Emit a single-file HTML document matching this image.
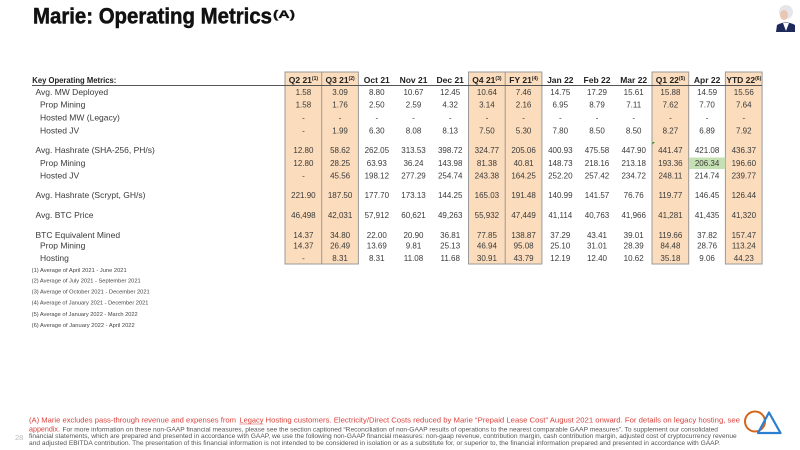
<!DOCTYPE html>
<html>
<head>
<meta charset="utf-8">
<style>
html,body{margin:0;padding:0;background:#fff;}
svg{display:block;}
text{font-family:"Liberation Sans",sans-serif;}
.n{font-size:8px;fill:#3a3a3a;text-anchor:middle;}
.h{font-size:8.5px;font-weight:bold;fill:#222;text-anchor:middle;}
.l{font-size:8.5px;fill:#3a3a3a;}
.f{font-size:5.5px;fill:#444;}
.g{font-size:6px;fill:#555;}
.r{font-size:7.5px;fill:#d8413a;}
</style>
</head>
<body>
<svg width="800" height="450" viewBox="0 0 800 450" xmlns="http://www.w3.org/2000/svg">
<rect width="800" height="450" fill="#fff"/>

<!-- Title -->
<text x="33" y="23.5" font-size="22" font-weight="bold" fill="#111" stroke="#111" stroke-width="0.5" textLength="239" lengthAdjust="spacingAndGlyphs">Marie: Operating Metrics</text>
<text x="273" y="18" font-size="11" font-weight="bold" fill="#111" stroke="#111" stroke-width="0.3" textLength="22" lengthAdjust="spacingAndGlyphs">(A)</text>

<!-- avatar -->
<g>
<path d="M776,32 L777,25 Q786,20 795,25 L795,32 Z" fill="#1e2a5a"/>
<path d="M783,23 L786,31 L789,23 Z" fill="#fff"/>
<circle cx="786" cy="12" r="7" fill="#e6e6ea"/>
<ellipse cx="784" cy="15" rx="4" ry="5" fill="#e9c6b3"/>
</g>

<!-- shaded boxes -->
<g fill="#fbdcbc" stroke="#9a9a9a" stroke-width="1">
<rect x="285" y="72" width="73.4" height="192"/>
<rect x="468.5" y="72" width="73.4" height="192"/>
<rect x="652" y="72" width="36.7" height="192"/>
<rect x="725.4" y="72" width="36.7" height="192"/>
</g>
<line x1="321.7" y1="72" x2="321.7" y2="264" stroke="#9a9a9a" stroke-width="1"/>
<line x1="505.2" y1="72" x2="505.2" y2="264" stroke="#9a9a9a" stroke-width="1"/>
<rect x="689" y="157.5" width="36.2" height="11.5" fill="#c5e0b3"/>
<path d="M652.5,142 L655,142 L652.5,144.5 Z" fill="#2a9a2a"/>

<!-- header line -->
<line x1="32" y1="85.5" x2="762" y2="85.5" stroke="#555" stroke-width="1"/>

<!-- header -->
<text x="32.3" y="83" font-size="8.5" font-weight="bold" fill="#222" textLength="84" lengthAdjust="spacingAndGlyphs">Key Operating Metrics:</text>
<g class="hh">
<text class="h" x="303.4" y="83">Q2 21<tspan font-size="5" dy="-3">(1)</tspan></text>
<text class="h" x="340.1" y="83">Q3 21<tspan font-size="5" dy="-3">(2)</tspan></text>
<text class="h" x="376.8" y="83">Oct 21</text>
<text class="h" x="413.5" y="83">Nov 21</text>
<text class="h" x="450.2" y="83">Dec 21</text>
<text class="h" x="486.9" y="83">Q4 21<tspan font-size="5" dy="-3">(3)</tspan></text>
<text class="h" x="523.6" y="83">FY 21<tspan font-size="5" dy="-3">(4)</tspan></text>
<text class="h" x="560.3" y="83">Jan 22</text>
<text class="h" x="597.0" y="83">Feb 22</text>
<text class="h" x="633.7" y="83">Mar 22</text>
<text class="h" x="670.4" y="83">Q1 22<tspan font-size="5" dy="-3">(5)</tspan></text>
<text class="h" x="707.1" y="83">Apr 22</text>
<text class="h" x="743.8" y="83">YTD 22<tspan font-size="5" dy="-3">(6)</tspan></text>
</g>

<!-- labels -->
<text class="l" x="35.5" y="95.2">Avg. MW Deployed</text>
<text class="l" x="40" y="107.4">Prop Mining</text>
<text class="l" x="40" y="120.4">Hosted MW (Legacy)</text>
<text class="l" x="40" y="133.4">Hosted JV</text>
<text class="l" x="35.5" y="152.9">Avg. Hashrate (SHA-256, PH/s)</text>
<text class="l" x="40" y="165.9">Prop Mining</text>
<text class="l" x="40" y="178.6">Hosted JV</text>
<text class="l" x="35.5" y="197.9">Avg. Hashrate (Scrypt, GH/s)</text>
<text class="l" x="35.5" y="217.9">Avg. BTC Price</text>
<text class="l" x="35.5" y="237.9">BTC Equivalent Mined</text>
<text class="l" x="40" y="248.6">Prop Mining</text>
<text class="l" x="40" y="261.2">Hosting</text>

<!-- row 1 -->
<g>
<text class="n" x="303.4" y="95.2">1.58</text><text class="n" x="340.1" y="95.2">3.09</text><text class="n" x="376.8" y="95.2">8.80</text><text class="n" x="413.5" y="95.2">10.67</text><text class="n" x="450.2" y="95.2">12.45</text><text class="n" x="486.9" y="95.2">10.64</text><text class="n" x="523.6" y="95.2">7.46</text><text class="n" x="560.3" y="95.2">14.75</text><text class="n" x="597.0" y="95.2">17.29</text><text class="n" x="633.7" y="95.2">15.61</text><text class="n" x="670.4" y="95.2">15.88</text><text class="n" x="707.1" y="95.2">14.59</text><text class="n" x="743.8" y="95.2">15.56</text>
</g>
<!-- row 2 -->
<g>
<text class="n" x="303.4" y="107.4">1.58</text><text class="n" x="340.1" y="107.4">1.76</text><text class="n" x="376.8" y="107.4">2.50</text><text class="n" x="413.5" y="107.4">2.59</text><text class="n" x="450.2" y="107.4">4.32</text><text class="n" x="486.9" y="107.4">3.14</text><text class="n" x="523.6" y="107.4">2.16</text><text class="n" x="560.3" y="107.4">6.95</text><text class="n" x="597.0" y="107.4">8.79</text><text class="n" x="633.7" y="107.4">7.11</text><text class="n" x="670.4" y="107.4">7.62</text><text class="n" x="707.1" y="107.4">7.70</text><text class="n" x="743.8" y="107.4">7.64</text>
</g>
<!-- row 3 -->
<g>
<text class="n" x="303.4" y="120.4">-</text><text class="n" x="340.1" y="120.4">-</text><text class="n" x="376.8" y="120.4">-</text><text class="n" x="413.5" y="120.4">-</text><text class="n" x="450.2" y="120.4">-</text><text class="n" x="486.9" y="120.4">-</text><text class="n" x="523.6" y="120.4">-</text><text class="n" x="560.3" y="120.4">-</text><text class="n" x="597.0" y="120.4">-</text><text class="n" x="633.7" y="120.4">-</text><text class="n" x="670.4" y="120.4">-</text><text class="n" x="707.1" y="120.4">-</text><text class="n" x="743.8" y="120.4">-</text>
</g>
<!-- row 4 -->
<g>
<text class="n" x="303.4" y="133.4">-</text><text class="n" x="340.1" y="133.4">1.99</text><text class="n" x="376.8" y="133.4">6.30</text><text class="n" x="413.5" y="133.4">8.08</text><text class="n" x="450.2" y="133.4">8.13</text><text class="n" x="486.9" y="133.4">7.50</text><text class="n" x="523.6" y="133.4">5.30</text><text class="n" x="560.3" y="133.4">7.80</text><text class="n" x="597.0" y="133.4">8.50</text><text class="n" x="633.7" y="133.4">8.50</text><text class="n" x="670.4" y="133.4">8.27</text><text class="n" x="707.1" y="133.4">6.89</text><text class="n" x="743.8" y="133.4">7.92</text>
</g>
<!-- row 5 -->
<g>
<text class="n" x="303.4" y="152.9">12.80</text><text class="n" x="340.1" y="152.9">58.62</text><text class="n" x="376.8" y="152.9">262.05</text><text class="n" x="413.5" y="152.9">313.53</text><text class="n" x="450.2" y="152.9">398.72</text><text class="n" x="486.9" y="152.9">324.77</text><text class="n" x="523.6" y="152.9">205.06</text><text class="n" x="560.3" y="152.9">400.93</text><text class="n" x="597.0" y="152.9">475.58</text><text class="n" x="633.7" y="152.9">447.90</text><text class="n" x="670.4" y="152.9">441.47</text><text class="n" x="707.1" y="152.9">421.08</text><text class="n" x="743.8" y="152.9">436.37</text>
</g>
<!-- row 6 -->
<g>
<text class="n" x="303.4" y="165.9">12.80</text><text class="n" x="340.1" y="165.9">28.25</text><text class="n" x="376.8" y="165.9">63.93</text><text class="n" x="413.5" y="165.9">36.24</text><text class="n" x="450.2" y="165.9">143.98</text><text class="n" x="486.9" y="165.9">81.38</text><text class="n" x="523.6" y="165.9">40.81</text><text class="n" x="560.3" y="165.9">148.73</text><text class="n" x="597.0" y="165.9">218.16</text><text class="n" x="633.7" y="165.9">213.18</text><text class="n" x="670.4" y="165.9">193.36</text><text class="n" x="707.1" y="165.9">206.34</text><text class="n" x="743.8" y="165.9">196.60</text>
</g>
<!-- row 7 -->
<g>
<text class="n" x="303.4" y="178.6">-</text><text class="n" x="340.1" y="178.6">45.56</text><text class="n" x="376.8" y="178.6">198.12</text><text class="n" x="413.5" y="178.6">277.29</text><text class="n" x="450.2" y="178.6">254.74</text><text class="n" x="486.9" y="178.6">243.38</text><text class="n" x="523.6" y="178.6">164.25</text><text class="n" x="560.3" y="178.6">252.20</text><text class="n" x="597.0" y="178.6">257.42</text><text class="n" x="633.7" y="178.6">234.72</text><text class="n" x="670.4" y="178.6">248.11</text><text class="n" x="707.1" y="178.6">214.74</text><text class="n" x="743.8" y="178.6">239.77</text>
</g>
<!-- row 8 -->
<g>
<text class="n" x="303.4" y="197.9">221.90</text><text class="n" x="340.1" y="197.9">187.50</text><text class="n" x="376.8" y="197.9">177.70</text><text class="n" x="413.5" y="197.9">173.13</text><text class="n" x="450.2" y="197.9">144.25</text><text class="n" x="486.9" y="197.9">165.03</text><text class="n" x="523.6" y="197.9">191.48</text><text class="n" x="560.3" y="197.9">140.99</text><text class="n" x="597.0" y="197.9">141.57</text><text class="n" x="633.7" y="197.9">76.76</text><text class="n" x="670.4" y="197.9">119.77</text><text class="n" x="707.1" y="197.9">146.45</text><text class="n" x="743.8" y="197.9">126.44</text>
</g>
<!-- row 9 -->
<g>
<text class="n" x="303.4" y="217.9">46,498</text><text class="n" x="340.1" y="217.9">42,031</text><text class="n" x="376.8" y="217.9">57,912</text><text class="n" x="413.5" y="217.9">60,621</text><text class="n" x="450.2" y="217.9">49,263</text><text class="n" x="486.9" y="217.9">55,932</text><text class="n" x="523.6" y="217.9">47,449</text><text class="n" x="560.3" y="217.9">41,114</text><text class="n" x="597.0" y="217.9">40,763</text><text class="n" x="633.7" y="217.9">41,966</text><text class="n" x="670.4" y="217.9">41,281</text><text class="n" x="707.1" y="217.9">41,435</text><text class="n" x="743.8" y="217.9">41,320</text>
</g>
<!-- row 10 -->
<g>
<text class="n" x="303.4" y="237.9">14.37</text><text class="n" x="340.1" y="237.9">34.80</text><text class="n" x="376.8" y="237.9">22.00</text><text class="n" x="413.5" y="237.9">20.90</text><text class="n" x="450.2" y="237.9">36.81</text><text class="n" x="486.9" y="237.9">77.85</text><text class="n" x="523.6" y="237.9">138.87</text><text class="n" x="560.3" y="237.9">37.29</text><text class="n" x="597.0" y="237.9">43.41</text><text class="n" x="633.7" y="237.9">39.01</text><text class="n" x="670.4" y="237.9">119.66</text><text class="n" x="707.1" y="237.9">37.82</text><text class="n" x="743.8" y="237.9">157.47</text>
</g>
<!-- row 11 -->
<g>
<text class="n" x="303.4" y="248.6">14.37</text><text class="n" x="340.1" y="248.6">26.49</text><text class="n" x="376.8" y="248.6">13.69</text><text class="n" x="413.5" y="248.6">9.81</text><text class="n" x="450.2" y="248.6">25.13</text><text class="n" x="486.9" y="248.6">46.94</text><text class="n" x="523.6" y="248.6">95.08</text><text class="n" x="560.3" y="248.6">25.10</text><text class="n" x="597.0" y="248.6">31.01</text><text class="n" x="633.7" y="248.6">28.39</text><text class="n" x="670.4" y="248.6">84.48</text><text class="n" x="707.1" y="248.6">28.76</text><text class="n" x="743.8" y="248.6">113.24</text>
</g>
<!-- row 12 -->
<g>
<text class="n" x="303.4" y="261.2">-</text><text class="n" x="340.1" y="261.2">8.31</text><text class="n" x="376.8" y="261.2">8.31</text><text class="n" x="413.5" y="261.2">11.08</text><text class="n" x="450.2" y="261.2">11.68</text><text class="n" x="486.9" y="261.2">30.91</text><text class="n" x="523.6" y="261.2">43.79</text><text class="n" x="560.3" y="261.2">12.19</text><text class="n" x="597.0" y="261.2">12.40</text><text class="n" x="633.7" y="261.2">10.62</text><text class="n" x="670.4" y="261.2">35.18</text><text class="n" x="707.1" y="261.2">9.06</text><text class="n" x="743.8" y="261.2">44.23</text>
</g>

<!-- footnotes -->
<text class="f" x="31.7" y="272" textLength="95" lengthAdjust="spacingAndGlyphs">(1) Average of April 2021 - June 2021</text>
<text class="f" x="31.7" y="282.7" textLength="109" lengthAdjust="spacingAndGlyphs">(2) Average of July 2021 - September 2021</text>
<text class="f" x="31.7" y="293.7" textLength="118" lengthAdjust="spacingAndGlyphs">(3) Average of October 2021 - December 2021</text>
<text class="f" x="31.7" y="304.7" textLength="116.7" lengthAdjust="spacingAndGlyphs">(4) Average of January 2021 - December 2021</text>
<text class="f" x="31.7" y="316" textLength="106" lengthAdjust="spacingAndGlyphs">(5) Average of January 2022 - March 2022</text>
<text class="f" x="31.7" y="327" textLength="103" lengthAdjust="spacingAndGlyphs">(6) Average of January 2022 - April 2022</text>

<!-- footer -->
<text class="r" x="29" y="422.5" textLength="207" lengthAdjust="spacingAndGlyphs">(A) Marie excludes pass-through revenue and expenses from</text>
<text class="r" x="239.5" y="422.5" textLength="24" lengthAdjust="spacingAndGlyphs">Legacy</text>
<line x1="239.5" y1="424" x2="263.5" y2="424" stroke="#d8413a" stroke-width="0.6"/>
<text class="r" x="265.5" y="422.5" textLength="474.5" lengthAdjust="spacingAndGlyphs">Hosting customers. Electricity/Direct Costs reduced by Marie “Prepaid Lease Cost” August 2021 onward. For details on legacy hosting, see</text>
<text class="r" x="29" y="431.3" textLength="31" lengthAdjust="spacingAndGlyphs">appendix.</text>
<text class="g" x="62.5" y="431.3" textLength="655.5" lengthAdjust="spacingAndGlyphs">For more information on these non-GAAP financial measures, please see the section captioned “Reconciliation of non-GAAP results of operations to the nearest comparable GAAP measures”. To supplement our consolidated</text>
<text class="g" x="29" y="438" textLength="707.7" lengthAdjust="spacingAndGlyphs">financial statements, which are prepared and presented in accordance with GAAP, we use the following non-GAAP financial measures: non-gaap revenue, contribution margin, cash contribution margin, adjusted cost of cryptocurrency revenue</text>
<text class="g" x="29" y="444.8" textLength="691" lengthAdjust="spacingAndGlyphs">and adjusted EBITDA contribution. The presentation of this financial information is not intended to be considered in isolation or as a substitute for, or superior to, the financial information prepared and presented in accordance with GAAP.</text>

<text x="15" y="440" font-size="7.5" fill="#bbb">28</text>

<!-- logo -->
<circle cx="755" cy="421.5" r="10" fill="none" stroke="#d4651b" stroke-width="2"/>
<path d="M769,412.5 L780.5,433 L758,433 Z" fill="none" stroke="#2b7fd0" stroke-width="2.2" stroke-linejoin="round"/>
</svg>
</body>
</html>
